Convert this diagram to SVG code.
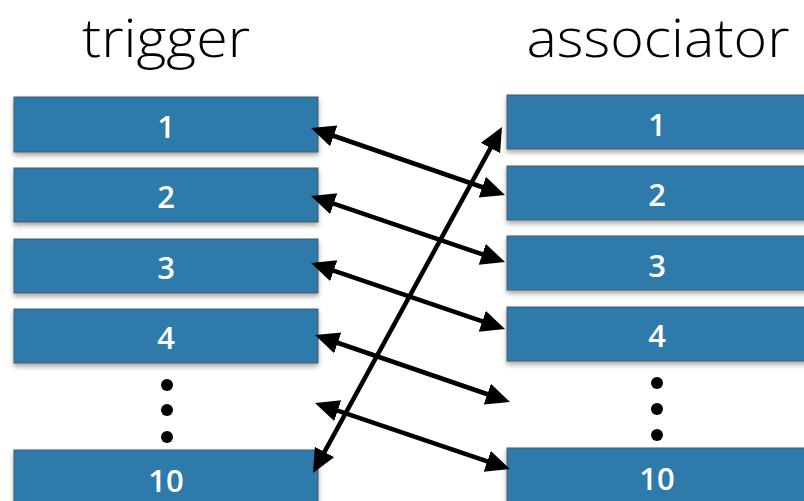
<svg xmlns="http://www.w3.org/2000/svg" width="804" height="501" viewBox="0 0 804 501">
<style>
.box{fill:#2d7aab;stroke:#4b5b66;stroke-width:1;filter:url(#sh)}
.num{font-family:"Open Sans","Liberation Sans",sans-serif;font-weight:600;font-size:31px;fill:#fff;text-anchor:middle}
.title{font-family:"Open Sans","Liberation Sans",sans-serif;font-weight:300;font-size:54px;fill:#000;text-anchor:middle}
.arr{stroke:#000;stroke-width:4.5;fill:none;marker-start:url(#ah);marker-end:url(#ah)}
</style>
<defs>
<filter id="sh" x="-5%" y="-20%" width="110%" height="150%">
<feDropShadow dx="0" dy="3" stdDeviation="2.5" flood-color="#000" flood-opacity="0.35"/>
</filter>
<marker id="ah" markerUnits="userSpaceOnUse" markerWidth="26" markerHeight="24" refX="18" refY="11" orient="auto-start-reverse" viewBox="0 0 26 24">
<path d="M0,0 L24,11 L0,22 Z" fill="#000"/>
</marker>
</defs>
<rect width="804" height="501" fill="#fff"/>
<text class="title" x="166" y="57" textLength="168" lengthAdjust="spacingAndGlyphs">trigger</text>
<text class="title" x="658" y="57" textLength="263" lengthAdjust="spacingAndGlyphs">associator</text>

<g id="t1"><rect class="box" x="14" y="97" width="304" height="55"/><text class="num" x="166" y="138">1</text></g>
<g id="t2"><rect class="box" x="14" y="168" width="304" height="54"/><text class="num" x="166" y="208">2</text></g>
<g id="t3"><rect class="box" x="14" y="239" width="304" height="54"/><text class="num" x="166" y="279">3</text></g>
<g id="t4"><rect class="box" x="14" y="309" width="304" height="54"/><text class="num" x="166" y="349">4</text></g>
<g id="tdots"><circle cx="167" cy="385" r="6"/><circle cx="167" cy="410" r="6"/><circle cx="167" cy="437" r="6"/></g>
<g id="t10"><rect class="box" x="14" y="450" width="304" height="60"/><text class="num" x="166" y="492">10</text></g>

<g id="a1"><rect class="box" x="507" y="95" width="304" height="54"/><text class="num" x="657" y="136">1</text></g>
<g id="a2"><rect class="box" x="507" y="166" width="304" height="54"/><text class="num" x="657" y="206">2</text></g>
<g id="a3"><rect class="box" x="507" y="236" width="304" height="54"/><text class="num" x="657" y="277">3</text></g>
<g id="a4"><rect class="box" x="507" y="307" width="304" height="54"/><text class="num" x="657" y="347">4</text></g>
<g id="adots"><circle cx="657" cy="383" r="6"/><circle cx="657" cy="409" r="6"/><circle cx="657" cy="435" r="6"/></g>
<g id="a10"><rect class="box" x="507" y="448" width="304" height="60"/><text class="num" x="657" y="490">10</text></g>

<g id="connectors">
<line class="arr" x1="316.7" y1="130.0" x2="499.3" y2="193.0"/>
<line class="arr" x1="316.7" y1="197.9" x2="499.3" y2="260.1"/>
<line class="arr" x1="316.7" y1="264.9" x2="499.3" y2="327.1"/>
<line class="arr" x1="320.7" y1="337.0" x2="504.3" y2="400.0"/>
<line class="arr" x1="320.7" y1="404.9" x2="504.3" y2="467.1"/>
<line class="arr" x1="315.9" y1="467.7" x2="499.1" y2="132.3"/>
</g>
</svg>
